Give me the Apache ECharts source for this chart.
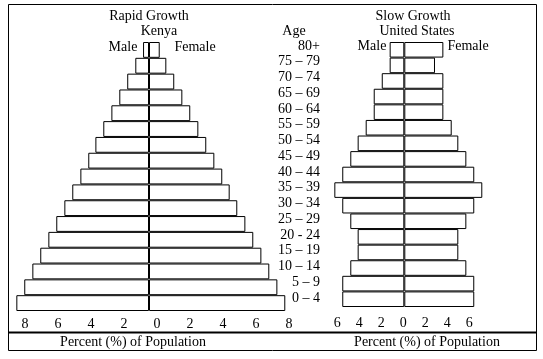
<!DOCTYPE html>
<html>
<head>
<meta charset="utf-8">
<script src="https://cdn.jsdelivr.net/npm/echarts@6/dist/echarts.min.js"></script>
<style>
html,body{margin:0;padding:0;background:#fff;}
#chart{width:543px;height:359px;}
</style>
</head>
<body>
<div id="chart"></div>
<script>
const ages = ['80+','75 – 79','70 – 74','65 – 69','60 – 64','55 – 59','50 – 54','45 – 49','40 – 44','35 – 39','30 – 34','25 – 29','20 - 24','15 – 19','10 – 14','5 – 9','0 – 4'];
const kenyaMale   = [0.36,0.83,1.32,1.80,2.28,2.77,3.25,3.68,4.16,4.65,5.13,5.62,6.10,6.59,7.07,7.56,8.04];
const kenyaFemale = [0.65,1.05,1.53,2.02,2.50,2.99,3.47,3.96,4.44,4.89,5.35,5.84,6.32,6.81,7.29,7.78,8.26];
const usMale      = [1.33,1.33,2.05,2.78,2.78,3.51,4.24,4.91,5.64,6.36,5.64,4.91,4.24,4.24,4.91,5.64,5.64];
const usFemale    = [3.55,2.79,3.55,3.55,3.55,4.31,4.91,5.64,6.36,7.09,6.36,5.64,4.91,4.91,5.64,6.36,6.36];
const kenyaTicks = [-8,-6,-4,-2,0,2,4,6,8];
const usTicks = [-6,-4,-2,0,2,4,6];

const FONT = '"Liberation Serif","DejaVu Serif",serif';
const chart = echarts.init(document.getElementById('chart'), null, {renderer:'canvas'});

function barSeries(data, axisIdx, neg){
  return {
    type:'bar', xAxisIndex:axisIdx, yAxisIndex:axisIdx,
    data: data.map(v => neg ? -v : v),
    barCategoryGap:'0%', barGap:'-100%',
    itemStyle:{color:'#fff', borderColor:'#000', borderWidth:1},
    silent:true
  };
}
function txt(text, x, y, align){
  return {type:'text', x:x, y:y, silent:true,
    style:{text:text, fill:'#000', font:'14px ' + FONT, textAlign:align||'center', textVerticalAlign:'middle'}};
}

const option = {
  backgroundColor:'#fff',
  animation:false,
  grid:[
    {left:0.5, width:297, top:42, height:269},
    {left:316.3, width:176, top:42, height:265},
    {left:320, width:10, top:38, height:268}
  ],
  xAxis:[
    {gridIndex:0, type:'value', min:-9, max:9,
     axisLine:{show:false}, axisTick:{show:false}, splitLine:{show:false},
     axisLabel:{customValues:kenyaTicks, formatter:v=>String(Math.abs(v)), color:'#000',
       fontFamily:FONT, fontSize:14, margin:6, padding:[0,0,0,16]}},
    {gridIndex:1, type:'value', min:-8, max:8,
     axisLine:{show:false}, axisTick:{show:false}, splitLine:{show:false},
     axisLabel:{customValues:usTicks, formatter:v=>String(Math.abs(v)), color:'#000',
       fontFamily:FONT, fontSize:14, margin:9, padding:[0,2,0,0]}},
    {gridIndex:2, type:'value', show:false}
  ],
  yAxis:[
    {gridIndex:0, type:'category', data:ages, inverse:true, show:false},
    {gridIndex:1, type:'category', data:ages, inverse:true, show:false},
    {gridIndex:2, type:'category', data:ages, inverse:true, position:'left',
     axisLine:{show:false}, axisTick:{show:false}, splitLine:{show:false},
     axisLabel:{interval:0, color:'#000', fontFamily:FONT, fontSize:14, margin:0, align:'right'}}
  ],
  series:[
    barSeries(kenyaMale,0,true),
    barSeries(kenyaFemale,0,false),
    barSeries(usMale,1,true),
    barSeries(usFemale,1,false)
  ],
  graphic:[
    {type:'rect', silent:true, shape:{x:8.5,y:4.5,width:528,height:346},
     style:{fill:null, stroke:'#000', lineWidth:1}},
    {type:'line', silent:true, shape:{x1:8,y1:332.5,x2:537,y2:332.5},
     style:{stroke:'#000', lineWidth:2}},
    txt('Rapid Growth',149,16),
    txt('Kenya',159,31),
    txt('Male',123,47),
    txt('Female',195,47),
    txt('Age',294,31),
    txt('Slow Growth',413,16),
    txt('United States',417,31),
    txt('Male',372,46),
    txt('Female',468,46),
    txt('Percent (%) of Population',133,342),
    txt('Percent (%) of Population',427,342)
  ]
};
chart.setOption(option);
</script>
</body>
</html>
